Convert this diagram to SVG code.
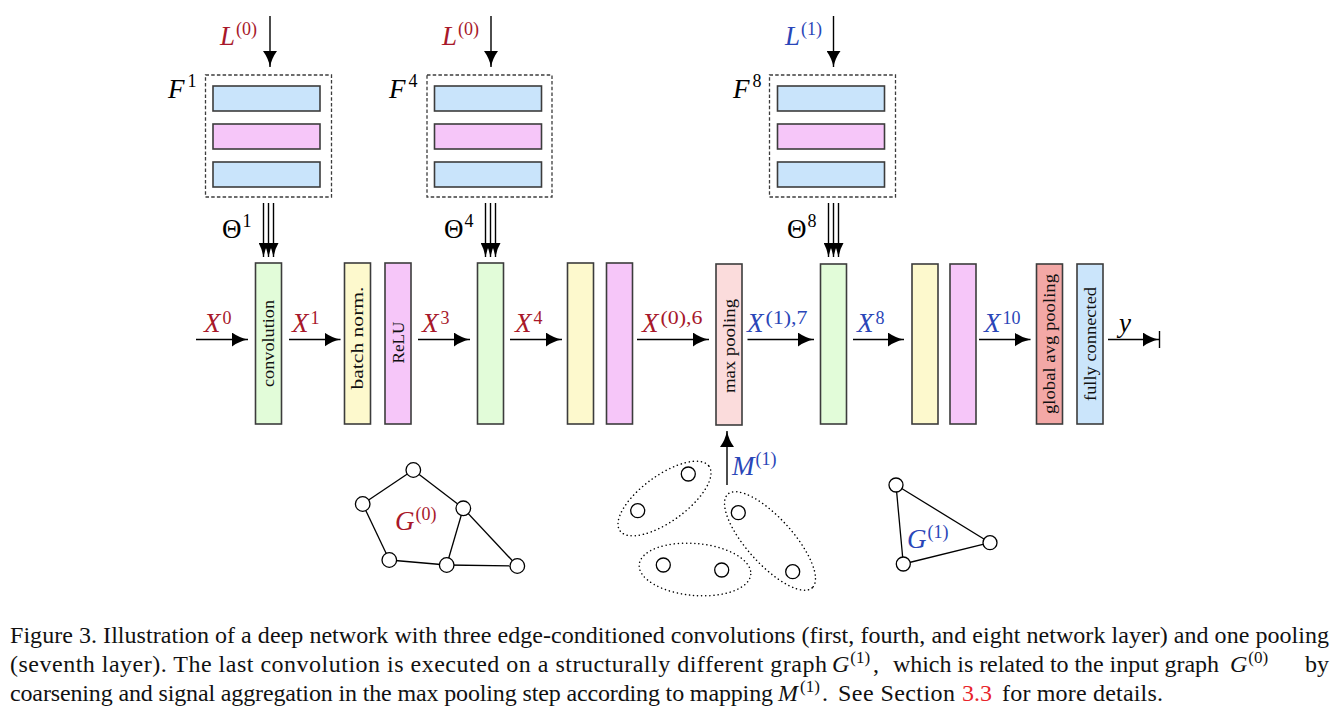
<svg xmlns="http://www.w3.org/2000/svg" width="1339" height="717" viewBox="0 0 1339 717">
<style>
.blk{stroke:#3c3c3c;stroke-width:1.6}
.conv{fill:#e2fcd9}.bn{fill:#fdf9cd}.relu{fill:#f6c6f9}.mp{fill:#fbdcdc}.gap{fill:#f3a8a6}.fc{fill:#cbe5fb}.fb{fill:#c9e4fb}
.dash{fill:none;stroke:#3c3c3c;stroke-width:1.3;stroke-dasharray:3.5,2.2}
.ln{stroke:#000;stroke-width:1.4;fill:none}
.m{font-family:"Liberation Serif","Times New Roman",serif;font-style:italic;font-size:27px}
.up{font-style:normal}
.s{font-family:"Liberation Serif","Times New Roman",serif;font-style:normal;font-size:18px}
.r{fill:#a8182a}.b{fill:#2a46b8}.k{fill:#000}
.vt{font-family:"Liberation Serif","Times New Roman",serif;font-size:16px;fill:#111;text-anchor:middle}
.node{fill:#fff;stroke:#000;stroke-width:1.3}
.edge{stroke:#000;stroke-width:1.3}
.dot{fill:none;stroke:#000;stroke-width:1.5;stroke-dasharray:0.1,4;stroke-linecap:round}
.cap{font-family:"Liberation Serif","Times New Roman",serif;font-size:24px;fill:#111}
.ci{font-style:italic}
.cs{font-size:17px}
.ref{fill:#e8232a}
</style>
<defs>
<marker id="ah" markerUnits="userSpaceOnUse" markerWidth="17" markerHeight="14" refX="16" refY="7" orient="auto">
<path d="M0,0 Q7,5.2 16,7 Q7,8.8 0,14 Z" fill="#000"/>
</marker>
<marker id="ahs" markerUnits="userSpaceOnUse" markerWidth="15" markerHeight="10" refX="14" refY="5" orient="auto">
<path d="M0,0 Q6,3.6 14,5 Q6,6.4 0,10 Z" fill="#000"/>
</marker>
</defs>

<!-- filter banks -->
<g id="filter1">
<rect class="dash" x="205.5" y="75" width="126" height="122"/>
<rect class="blk fb" x="213" y="86" width="107" height="25"/>
<rect class="blk relu" x="213" y="124" width="107" height="25"/>
<rect class="blk fb" x="213" y="162" width="107" height="25"/>
<text class="m k" x="168" y="98">F<tspan class="s" dx="3" dy="-11">1</tspan></text>
<text class="m r" x="220" y="45">L<tspan class="s" dx="1" dy="-10">(0)</tspan></text>
<text class="m k up" x="222" y="238">Θ<tspan class="s" dx="1" dy="-11">1</tspan></text>
</g>
<g id="filter4">
<rect class="dash" x="427" y="75" width="125" height="122"/>
<rect class="blk fb" x="434.5" y="86" width="107" height="25"/>
<rect class="blk relu" x="434.5" y="124" width="107" height="25"/>
<rect class="blk fb" x="434.5" y="162" width="107" height="25"/>
<text class="m k" x="389" y="98">F<tspan class="s" dx="3" dy="-11">4</tspan></text>
<text class="m r" x="442" y="45">L<tspan class="s" dx="1" dy="-10">(0)</tspan></text>
<text class="m k up" x="444" y="238">Θ<tspan class="s" dx="1" dy="-11">4</tspan></text>
</g>
<g id="filter8">
<rect class="dash" x="769.5" y="75" width="126" height="122"/>
<rect class="blk fb" x="777.5" y="86" width="107" height="25"/>
<rect class="blk relu" x="777.5" y="124" width="107" height="25"/>
<rect class="blk fb" x="777.5" y="162" width="107" height="25"/>
<text class="m k" x="733" y="98">F<tspan class="s" dx="3" dy="-11">8</tspan></text>
<text class="m b" x="785" y="45">L<tspan class="s" dx="1" dy="-10">(1)</tspan></text>
<text class="m k up" x="787" y="238">Θ<tspan class="s" dx="1" dy="-11">8</tspan></text>
</g>

<!-- layers -->
<g id="conv1"><rect class="blk conv" x="255.5" y="263" width="26" height="161"/>
<text class="vt" transform="translate(268.5,343.5) rotate(-90)" x="0" y="5.5" textLength="87" lengthAdjust="spacingAndGlyphs">convolution</text></g>
<g id="bn1"><rect class="blk bn" x="344.5" y="263" width="26" height="161"/>
<text class="vt" transform="translate(357.5,338) rotate(-90)" x="0" y="5.5" textLength="103" lengthAdjust="spacingAndGlyphs">batch norm.</text></g>
<g id="relu1"><rect class="blk relu" x="385" y="263" width="26" height="161"/>
<text class="vt" transform="translate(398,342.5) rotate(-90)" x="0" y="5.5" textLength="42" lengthAdjust="spacingAndGlyphs">ReLU</text></g>
<g id="conv2"><rect class="blk conv" x="477.5" y="263" width="26" height="161"/></g>
<g id="bn2"><rect class="blk bn" x="567.5" y="263" width="26" height="161"/></g>
<g id="relu2"><rect class="blk relu" x="606.5" y="263" width="26" height="161"/></g>
<g id="maxpool"><rect class="blk mp" x="716" y="264" width="26" height="161"/>
<text class="vt" transform="translate(729,346) rotate(-90)" x="0" y="5.5" textLength="94" lengthAdjust="spacingAndGlyphs">max pooling</text></g>
<g id="conv3"><rect class="blk conv" x="820.5" y="264" width="26" height="160"/></g>
<g id="bn3"><rect class="blk bn" x="912" y="264" width="26" height="160"/></g>
<g id="relu3"><rect class="blk relu" x="950" y="264" width="26" height="160"/></g>
<g id="gap"><rect class="blk gap" x="1036.5" y="264" width="26" height="160"/>
<text class="vt" transform="translate(1049.5,344) rotate(-90)" x="0" y="5.5" textLength="140" lengthAdjust="spacingAndGlyphs">global avg pooling</text></g>
<g id="fc"><rect class="blk fc" x="1077" y="264" width="26" height="160"/>
<text class="vt" transform="translate(1090,344) rotate(-90)" x="0" y="5.5" textLength="114" lengthAdjust="spacingAndGlyphs">fully connected</text></g>

<!-- connectors -->
<g id="connectors">
<line class="ln" x1="270" y1="16" x2="270" y2="67" marker-end="url(#ah)"/>
<line class="ln" x1="491" y1="16" x2="491" y2="67" marker-end="url(#ah)"/>
<line class="ln" x1="833.5" y1="16" x2="833.5" y2="67" marker-end="url(#ah)"/>
<g>
<line class="ln" x1="263.5" y1="203" x2="263.5" y2="257" marker-end="url(#ahs)"/>
<line class="ln" x1="268.5" y1="203" x2="268.5" y2="257" marker-end="url(#ahs)"/>
<line class="ln" x1="273.5" y1="203" x2="273.5" y2="257" marker-end="url(#ahs)"/>
<line class="ln" x1="485.5" y1="203" x2="485.5" y2="257" marker-end="url(#ahs)"/>
<line class="ln" x1="490.5" y1="203" x2="490.5" y2="257" marker-end="url(#ahs)"/>
<line class="ln" x1="495.5" y1="203" x2="495.5" y2="257" marker-end="url(#ahs)"/>
<line class="ln" x1="828.5" y1="203" x2="828.5" y2="257" marker-end="url(#ahs)"/>
<line class="ln" x1="833.5" y1="203" x2="833.5" y2="257" marker-end="url(#ahs)"/>
<line class="ln" x1="838.5" y1="203" x2="838.5" y2="257" marker-end="url(#ahs)"/>
</g>
<line class="ln" x1="196" y1="339.5" x2="248" y2="339.5" marker-end="url(#ah)"/>
<line class="ln" x1="289" y1="339.5" x2="340.5" y2="339.5" marker-end="url(#ah)"/>
<line class="ln" x1="418" y1="339.5" x2="470" y2="339.5" marker-end="url(#ah)"/>
<line class="ln" x1="510" y1="339.5" x2="562" y2="339.5" marker-end="url(#ah)"/>
<line class="ln" x1="637" y1="339.5" x2="709" y2="339.5" marker-end="url(#ah)"/>
<line class="ln" x1="747.5" y1="339.5" x2="814" y2="339.5" marker-end="url(#ah)"/>
<line class="ln" x1="853" y1="339.5" x2="904" y2="339.5" marker-end="url(#ah)"/>
<line class="ln" x1="979" y1="339.5" x2="1030.5" y2="339.5" marker-end="url(#ah)"/>
<line class="ln" x1="1108" y1="339.5" x2="1159" y2="339.5" marker-end="url(#ah)"/>
<line class="ln" x1="1159.5" y1="331" x2="1159.5" y2="348"/>
<line class="ln" x1="727" y1="485" x2="727" y2="431" marker-end="url(#ah)"/>
</g>

<!-- signal labels -->
<g id="signal-labels">
<text class="m r" x="204" y="331.5">X<tspan class="s" dx="2" dy="-8">0</tspan></text>
<text class="m r" x="292" y="331.5">X<tspan class="s" dx="2" dy="-8">1</tspan></text>
<text class="m r" x="422" y="331.5">X<tspan class="s" dx="2" dy="-8">3</tspan></text>
<text class="m r" x="515" y="331.5">X<tspan class="s" dx="2" dy="-8">4</tspan></text>
<text class="m r" x="642" y="331.5">X<tspan class="s" dx="2" dy="-8" textLength="42" lengthAdjust="spacingAndGlyphs">(0),6</tspan></text>
<text class="m b" x="747" y="331.5">X<tspan class="s" dx="2" dy="-8" textLength="42" lengthAdjust="spacingAndGlyphs">(1),7</tspan></text>
<text class="m b" x="857" y="331.5">X<tspan class="s" dx="2" dy="-8">8</tspan></text>
<text class="m b" x="984" y="331.5">X<tspan class="s" dx="2" dy="-8">10</tspan></text>
<text class="m k" x="1119" y="331.5">y</text>
<text class="m b" x="732" y="475">M<tspan class="s" dx="1" dy="-10">(1)</tspan></text>
</g>

<!-- graph G(0) -->
<g id="graph0">
<line class="edge" x1="413.3" y1="470" x2="362.7" y2="504"/>
<line class="edge" x1="413.3" y1="470" x2="463.3" y2="508.3"/>
<line class="edge" x1="362.7" y1="504" x2="389.3" y2="560"/>
<line class="edge" x1="389.3" y1="560" x2="446.7" y2="565"/>
<line class="edge" x1="446.7" y1="565" x2="463.3" y2="508.3"/>
<line class="edge" x1="463.3" y1="508.3" x2="517.3" y2="566"/>
<line class="edge" x1="446.7" y1="565" x2="517.3" y2="566"/>
<circle class="node" cx="413.3" cy="470" r="7.3"/>
<circle class="node" cx="362.7" cy="504" r="7.3"/>
<circle class="node" cx="463.3" cy="508.3" r="7.3"/>
<circle class="node" cx="389.3" cy="560" r="7.3"/>
<circle class="node" cx="446.7" cy="565" r="7.3"/>
<circle class="node" cx="517.3" cy="566" r="7.3"/>
<text class="m r" x="395" y="530">G<tspan class="s" dx="1" dy="-10">(0)</tspan></text>
</g>

<!-- pooling clusters -->
<g id="pooling-map">
<ellipse class="dot" cx="664.5" cy="498.5" rx="55" ry="23" transform="rotate(-36 664.5 498.5)"/>
<ellipse class="dot" cx="770" cy="541" rx="63" ry="23" transform="rotate(48 770 541)"/>
<ellipse class="dot" cx="695" cy="569.5" rx="56" ry="26" transform="rotate(5 695 569.5)"/>
<circle class="node" cx="688.3" cy="474" r="7"/>
<circle class="node" cx="637.7" cy="510.7" r="7"/>
<circle class="node" cx="738.3" cy="512.7" r="7"/>
<circle class="node" cx="663.3" cy="565" r="7"/>
<circle class="node" cx="721.7" cy="570" r="7"/>
<circle class="node" cx="792.7" cy="571.7" r="7"/>
</g>

<!-- graph G(1) -->
<g id="graph1">
<line class="edge" x1="896" y1="485" x2="990" y2="542.7"/>
<line class="edge" x1="896" y1="485" x2="903.3" y2="564"/>
<line class="edge" x1="903.3" y1="564" x2="990" y2="542.7"/>
<circle class="node" cx="896" cy="485" r="7"/>
<circle class="node" cx="990" cy="542.7" r="7"/>
<circle class="node" cx="903.3" cy="564" r="7"/>
<text class="m b" x="907" y="548">G<tspan class="s" dx="1" dy="-10">(1)</tspan></text>
</g>

<!-- caption -->
<g id="caption">
<text class="cap" x="10" y="643" textLength="1319" lengthAdjust="spacing">Figure 3.  Illustration of a deep network with three edge-conditioned convolutions (first, fourth, and eight network layer) and one pooling</text>
<text class="cap" x="10" y="672" textLength="817" lengthAdjust="spacing">(seventh layer).  The last convolution is executed on a structurally different graph</text>
<text class="cap" x="832" y="672"><tspan class="ci">G</tspan><tspan class="cs" dx="1" dy="-9">(1)</tspan></text>
<text class="cap" x="873" y="672">,</text>
<text class="cap" x="893" y="672" textLength="326" lengthAdjust="spacing">which is related to the input graph</text>
<text class="cap" x="1230" y="672"><tspan class="ci">G</tspan><tspan class="cs" dx="1" dy="-9">(0)</tspan></text>
<text class="cap" x="1305" y="672">by</text>
<text class="cap" x="10" y="701" textLength="763" lengthAdjust="spacing">coarsening and signal aggregation in the max pooling step according to mapping</text>
<text class="cap" x="778" y="701"><tspan class="ci">M</tspan><tspan class="cs" dx="2" dy="-9">(1)</tspan></text>
<text class="cap" x="822" y="701">.</text>
<text class="cap" x="838" y="701" textLength="117" lengthAdjust="spacing">See Section</text>
<text class="cap ref" x="962" y="701" textLength="30" lengthAdjust="spacing">3.3</text>
<text class="cap" x="1002" y="701" textLength="161" lengthAdjust="spacing">for more details.</text>
</g>
</svg>
